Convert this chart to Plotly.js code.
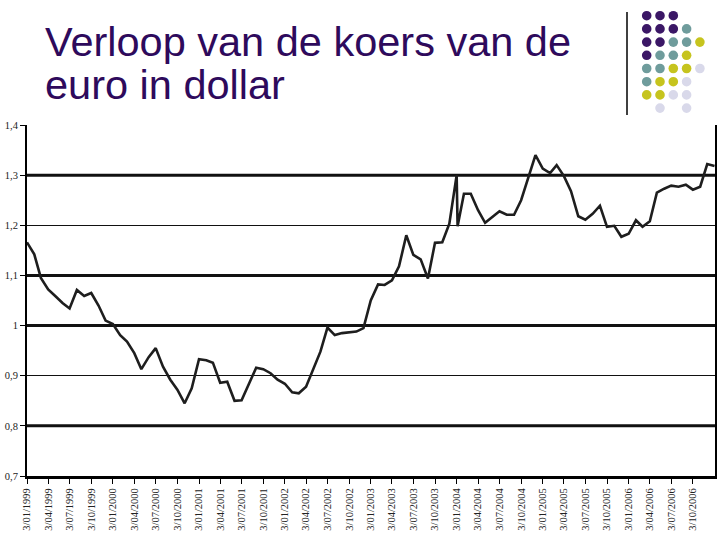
<!DOCTYPE html>
<html>
<head>
<meta charset="utf-8">
<script src="https://cdn.plot.ly/plotly-3.0.1.min.js"></script>
<style>html,body{margin:0;padding:0;background:#fff;}#chart{width:720px;height:540px;}</style>
</head>
<body>
<div id="chart"></div>
<script>
// ---- data ----
var dates = [
  "1999-01-03","1999-02-03","1999-03-03","1999-04-03","1999-05-03","1999-06-03","1999-07-03","1999-08-03","1999-09-03","1999-10-03","1999-11-03","1999-12-03",
  "2000-01-03","2000-02-03","2000-03-03","2000-04-03","2000-05-03","2000-06-03","2000-07-03","2000-08-03","2000-09-03","2000-10-03","2000-11-03","2000-12-03",
  "2001-01-03","2001-02-03","2001-03-03","2001-04-03","2001-05-03","2001-06-03","2001-07-03","2001-08-03","2001-09-03","2001-10-03","2001-11-03","2001-12-03",
  "2002-01-03","2002-02-03","2002-03-03","2002-04-03","2002-05-03","2002-06-03","2002-07-03","2002-08-03","2002-09-03","2002-10-03","2002-11-03","2002-12-03",
  "2003-01-03","2003-02-03","2003-03-03","2003-04-03","2003-05-03","2003-06-03","2003-07-03","2003-08-03","2003-09-03","2003-10-03","2003-11-03","2003-12-03",
  "2004-01-03","2004-01-07","2004-02-03","2004-03-03","2004-04-03","2004-05-03","2004-06-03","2004-07-03","2004-08-03","2004-09-03","2004-10-03","2004-11-03","2004-12-03",
  "2005-01-03","2005-02-03","2005-03-03","2005-04-03","2005-05-03","2005-06-03","2005-07-03","2005-08-03","2005-09-03","2005-10-03","2005-11-03","2005-12-03",
  "2006-01-03","2006-02-03","2006-03-03","2006-04-03","2006-05-03","2006-06-03","2006-07-03","2006-08-03","2006-09-03","2006-10-03","2006-11-03","2006-12-03",
  "2007-01-03"
];
var koers = [
  1.166,1.142,1.095,1.072,1.059,1.045,1.034,1.071,1.059,1.065,1.040,1.010,
  1.003,0.981,0.968,0.945,0.913,0.937,0.955,0.918,0.892,0.872,0.845,0.875,
  0.933,0.931,0.926,0.886,0.888,0.850,0.851,0.885,0.916,0.913,0.905,0.892,
  0.884,0.867,0.865,0.878,0.913,0.948,0.996,0.981,0.985,0.987,0.988,0.995,
  1.050,1.082,1.081,1.090,1.118,1.180,1.141,1.132,1.094,1.165,1.166,1.203,
  1.300,1.198,1.263,1.263,1.230,1.205,1.217,1.228,1.221,1.221,1.250,1.297,1.340,
  1.313,1.304,1.320,1.298,1.268,1.218,1.211,1.223,1.239,1.197,1.199,1.177,
  1.183,1.210,1.197,1.208,1.265,1.273,1.279,1.277,1.281,1.271,1.277,1.322,
  1.318
];
var xTickDates = [
  "1999-01-03","1999-04-03","1999-07-03","1999-10-03",
  "2000-01-03","2000-04-03","2000-07-03","2000-10-03",
  "2001-01-03","2001-04-03","2001-07-03","2001-10-03",
  "2002-01-03","2002-04-03","2002-07-03","2002-10-03",
  "2003-01-03","2003-04-03","2003-07-03","2003-10-03",
  "2004-01-03","2004-04-03","2004-07-03","2004-10-03",
  "2005-01-03","2005-04-03","2005-07-03","2005-10-03",
  "2006-01-03","2006-04-03","2006-07-03","2006-10-03"
];
var xTickLabels = [
  "3/01/1999","3/04/1999","3/07/1999","3/10/1999",
  "3/01/2000","3/04/2000","3/07/2000","3/10/2000",
  "3/01/2001","3/04/2001","3/07/2001","3/10/2001",
  "3/01/2002","3/04/2002","3/07/2002","3/10/2002",
  "3/01/2003","3/04/2003","3/07/2003","3/10/2003",
  "3/01/2004","3/04/2004","3/07/2004","3/10/2004",
  "3/01/2005","3/04/2005","3/07/2005","3/10/2005",
  "3/01/2006","3/04/2006","3/07/2006","3/10/2006"
];
var yTickVals = [0.7,0.8,0.9,1.0,1.1,1.2,1.3,1.4];
var yTickLabels = ["0,7","0,8","0,9","1","1,1","1,2","1,3","1,4"];
var thickGridVals = [0.8,1.0,1.1,1.3];
var titleLines = ["Verloop van de koers van de", "euro in dollar"];

// ---- decoration (slide ornament) ----
var dotPattern = ["PPP..","PPPT.","PPTTY","PTTY.","TTYYL","TYYL.","YYLL.",".L.L."];
var dotColors = {P:"#3b1766", T:"#6f9c9c", Y:"#c6c41e", L:"#d9d9ea"};

var plotL = 27, plotR = 715, plotT = 125, plotB = 476;
function px2paperX(px){ return (px - plotL) / (plotR - plotL); }
function px2paperY(py){ return (plotB - py) / (plotB - plotT); }

var shapes = [];
thickGridVals.forEach(function(v){
  shapes.push({type:"line", xref:"paper", yref:"y", x0:0, x1:1, y0:v, y1:v,
    line:{color:"#111", width:3}, layer:"below"});
});
shapes.push({type:"line", xref:"paper", yref:"paper",
  x0:px2paperX(627), x1:px2paperX(627), y0:px2paperY(12), y1:px2paperY(115),
  line:{color:"#000", width:1.5}});
dotPattern.forEach(function(row, r){
  for (var c = 0; c < row.length; c++){
    var k = row.charAt(c);
    if (k === ".") continue;
    var cx = px2paperX(646.7 + c*13.3), cy = px2paperY(15.7 + r*13.2);
    shapes.push({type:"circle", xref:"paper", yref:"paper", xsizemode:"pixel", ysizemode:"pixel",
      xanchor:cx, yanchor:cy, x0:-4.8, x1:4.8, y0:-4.8, y1:4.8,
      fillcolor:dotColors[k], line:{width:0}});
  }
});

var annotations = titleLines.map(function(t, i){
  return {text:t, showarrow:false, xref:"paper", yref:"paper",
    x:px2paperX(43), xanchor:"left", y:px2paperY(16 + i*43), yanchor:"top", align:"left",
    font:{family:"Liberation Sans, Arial, sans-serif", size:41.5, color:"#2e0a5c"}};
});

var trace = {
  x: dates, y: koers, type:"scatter", mode:"lines",
  line:{color:"#1e1e1e", width:2.6}, hoverinfo:"skip"
};

var layout = {
  width:720, height:540,
  margin:{l:plotL, r:720-plotR, t:plotT, b:540-plotB},
  paper_bgcolor:"#fff", plot_bgcolor:"#fff",
  showlegend:false,
  xaxis:{type:"date", range:["1999-01-03","2007-01-05"],
    tickmode:"array", tickvals:xTickDates, ticktext:xTickLabels,
    tickangle:-90, ticks:"outside", ticklen:5, tickcolor:"#000", tickwidth:1,
    tickfont:{family:"Liberation Serif, Times New Roman, serif", size:10.5, color:"#222"},
    showgrid:false, zeroline:false, showline:true, linecolor:"#000", linewidth:3,
    fixedrange:true},
  yaxis:{range:[0.7,1.4], tickmode:"array", tickvals:yTickVals, ticktext:yTickLabels,
    ticks:"outside", ticklen:5, tickcolor:"#000", tickwidth:1,
    tickfont:{family:"Liberation Serif, Times New Roman, serif", size:10.5, color:"#222"},
    showgrid:true, gridcolor:"#111", gridwidth:1,
    zeroline:false, showline:true, mirror:true, linecolor:"#000", linewidth:2,
    fixedrange:true},
  shapes:shapes,
  annotations:annotations
};

Plotly.newPlot("chart", [trace], layout, {displayModeBar:false, staticPlot:true});
</script>
</body>
</html>
